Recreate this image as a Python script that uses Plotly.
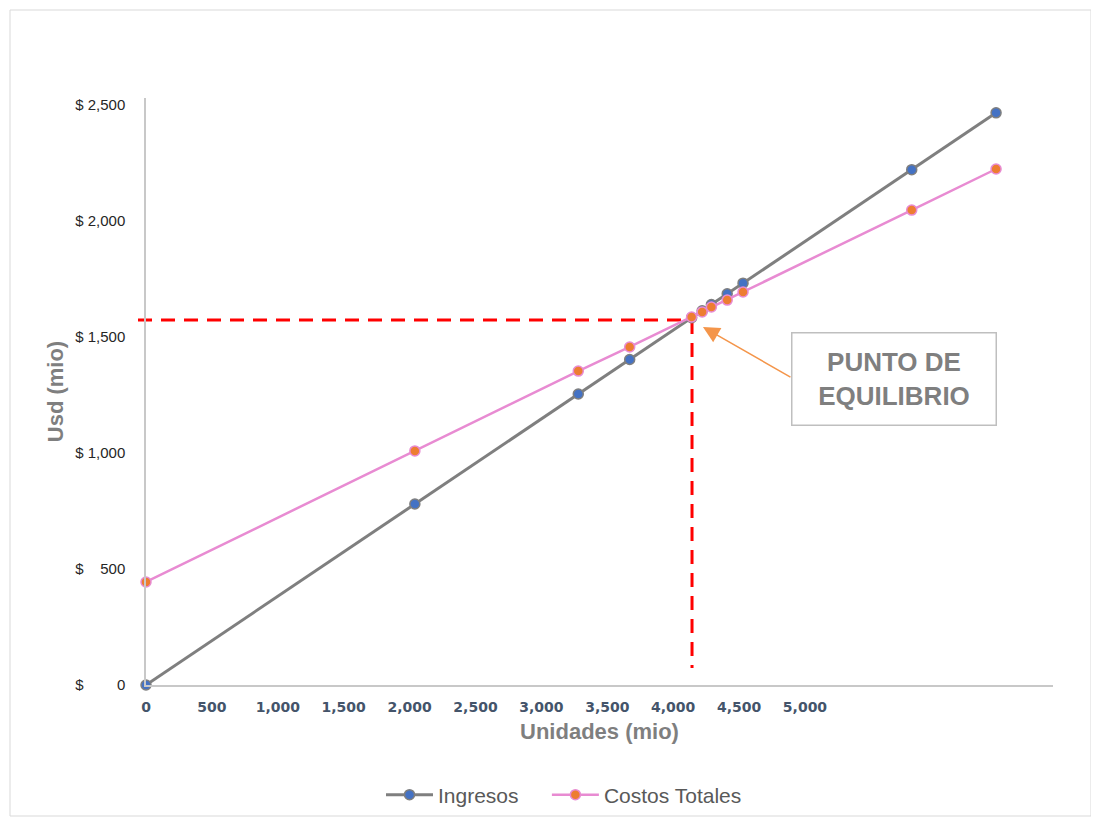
import plotly.graph_objects as go

# ---- data ----
unidades = [0, 2040, 3280, 3670, 4140, 4220, 4290, 4410, 4530, 5810, 6450]
ingresos = [0, 780, 1254, 1403, 1583, 1613, 1640, 1686, 1732, 2221, 2466]
costos_totales = [444, 1009, 1353, 1457, 1586, 1608, 1629, 1659, 1694, 2047, 2224]

breakeven_units = 4143
breakeven_usd = 1573
vline_bottom_usd = 73

x_tick_values = [0, 500, 1000, 1500, 2000, 2500, 3000, 3500, 4000, 4500, 5000]
x_tick_labels = ["0", "500", "1,000", "1,500", "2,000", "2,500", "3,000", "3,500", "4,000", "4,500", "5,000"]
y_tick_values = [0, 500, 1000, 1500, 2000, 2500]
y_tick_labels = [
    "$\u00a0\u2007\u2008\u2007\u20070",
    "$\u00a0\u2007\u2008500",
    "$\u00a01,000",
    "$\u00a01,500",
    "$\u00a02,000",
    "$\u00a02,500",
]

# ---- geometry (page has an 8px body margin) ----
OFF = 8
W, H = 1099 - OFF, 823 - OFF
L, T = 146 - OFF, 98 - OFF
R = W - (1053 - OFF)
B = H - (685 - OFF)
PW, PH = W - L - R, H - T - B
X_MAX = 6882


def px(x):
    return (x - OFF - L) / PW


def py(y):
    return (H - B - (y - OFF)) / PH


fig = go.Figure()

fig.add_trace(go.Scatter(
    x=unidades, y=ingresos, name="Ingresos\u00a0\u00a0\u00a0\u00a0", mode="lines+markers",
    line=dict(color="#7f7f7f", width=3),
    marker=dict(color="#4472c4", size=10, line=dict(color="#7f7f7f", width=1.5)),
    cliponaxis=False,
))
fig.add_trace(go.Scatter(
    x=unidades, y=costos_totales, name="Costos Totales", mode="lines+markers",
    line=dict(color="#e88bd2", width=2.5),
    marker=dict(color="#ed7d31", size=10, line=dict(color="#e88bd2", width=1.5)),
    cliponaxis=False,
))

dash = "14px,9px"
fig.add_shape(type="line", xref="paper", yref="y", x0=px(138), x1=breakeven_units / X_MAX,
              y0=breakeven_usd, y1=breakeven_usd, layer="below",
              line=dict(color="#ff0000", width=3, dash=dash))
fig.add_shape(type="line", xref="x", yref="y", x0=breakeven_units, x1=breakeven_units,
              y0=breakeven_usd, y1=vline_bottom_usd, layer="below",
              line=dict(color="#ff0000", width=3, dash=dash))

# outer frame
fig.add_shape(type="rect", xref="paper", yref="paper",
              x0=px(10), x1=px(1091), y0=py(816), y1=py(10),
              line=dict(color="#d9d9d9", width=1), fillcolor="rgba(0,0,0,0)")

# arrow
fig.add_annotation(x=4226, y=1543, xref="x", yref="y", text="", showarrow=True,
                   ax=89, ay=51, arrowhead=2, arrowsize=2.2, arrowwidth=1.5,
                   arrowcolor="#f4954a")
# label box
fig.add_annotation(x=px(894), y=py(379), xref="paper", yref="paper",
                   text="<b>PUNTO DE<br>EQUILIBRIO</b>", showarrow=False,
                   font=dict(family="Liberation Sans, Arial", size=26, color="#7f7f7f"),
                   width=201, height=89, borderpad=1, borderwidth=1.5,
                   bordercolor="#bfbfbf", bgcolor="white", xanchor="center", yanchor="middle")

fig.update_layout(
    width=W, height=H,
    margin=dict(l=L, r=R, t=T, b=B, autoexpand=False),
    paper_bgcolor="white", plot_bgcolor="white",
    showlegend=True,
    legend=dict(orientation="h", x=px(564), y=py(795), xanchor="center", yanchor="middle",
                bgcolor="rgba(0,0,0,0)",
                font=dict(family="Liberation Sans, Arial", size=21, color="#595959"),
                itemwidth=47, traceorder="normal"),
    xaxis=dict(
        range=[0, X_MAX], showgrid=False, zeroline=False,
        showline=True, linecolor="#c8c8c8", linewidth=1.5,
        tickmode="array", tickvals=x_tick_values, ticktext=x_tick_labels,
        ticks="", ticklabelstandoff=8,
        tickfont=dict(family="DejaVu Sans", size=14, color="#44546a", weight="bold"),
        title=dict(text="<b>Unidades (mio)</b>", standoff=10,
                   font=dict(family="Liberation Sans, Arial", size=22, color="#7f7f7f")),
    ),
    yaxis=dict(
        range=[0, 2530], showgrid=False, zeroline=False,
        showline=True, linecolor="#c8c8c8", linewidth=1.5,
        tickmode="array", tickvals=y_tick_values, ticktext=y_tick_labels,
        ticks="", ticklabelstandoff=16,
        tickfont=dict(family="Liberation Sans, Arial", size=15, color="#262626"),
        title=dict(text="<b>Usd (mio)</b>", standoff=6,
                   font=dict(family="Liberation Sans, Arial", size=22, color="#7f7f7f")),
    ),
)

fig.write_html("out.html")
